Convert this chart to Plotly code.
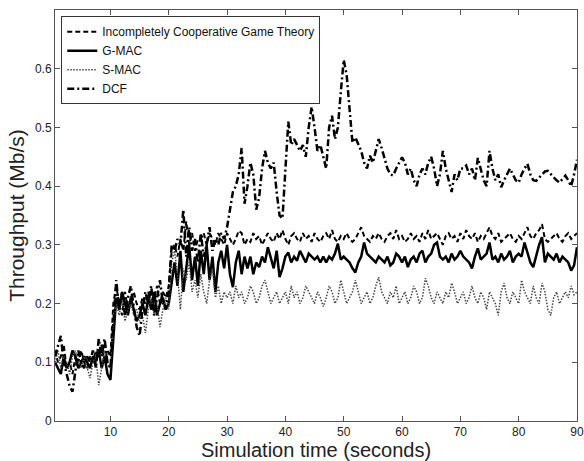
import plotly.graph_objects as go

# time axis (seconds), 0.5 s sampling
time_s = [0.5 * (i + 1) for i in range(180)]

icgt = [
    0.12, 0.10, 0.11, 0.13, 0.09, 0.10, 0.08, 0.11, 0.10, 0.12,
    0.10, 0.09, 0.11, 0.10, 0.12, 0.11, 0.13, 0.10, 0.12, 0.11,
    0.20, 0.23, 0.20, 0.18, 0.22, 0.19, 0.21, 0.22, 0.20, 0.19,
    0.21, 0.20, 0.22, 0.19, 0.21, 0.23, 0.20, 0.22, 0.21, 0.23,
    0.29, 0.30, 0.28, 0.31, 0.29, 0.34, 0.30, 0.32, 0.29, 0.31,
    0.31, 0.32, 0.30, 0.32, 0.31, 0.30, 0.32, 0.31, 0.30, 0.32,
    0.31, 0.30, 0.31, 0.324, 0.32, 0.30, 0.31, 0.305, 0.32, 0.31,
    0.315, 0.30, 0.31, 0.32, 0.31, 0.305, 0.32, 0.31, 0.325, 0.31,
    0.30, 0.315, 0.32, 0.31, 0.305, 0.32, 0.31, 0.315, 0.305, 0.32,
    0.31, 0.305, 0.315, 0.32, 0.31, 0.325, 0.31, 0.305, 0.315, 0.31,
    0.32, 0.31, 0.305, 0.31, 0.32, 0.33, 0.315, 0.31, 0.305, 0.315,
    0.31, 0.32, 0.31, 0.305, 0.315, 0.32, 0.31, 0.325, 0.31, 0.315,
    0.305, 0.31, 0.32, 0.31, 0.315, 0.305, 0.32, 0.31, 0.325, 0.31,
    0.315, 0.32, 0.31, 0.30, 0.315, 0.32, 0.31, 0.315, 0.305, 0.32,
    0.31, 0.325, 0.315, 0.31, 0.32, 0.305, 0.315, 0.31, 0.32, 0.33,
    0.315, 0.31, 0.32, 0.305, 0.31, 0.315, 0.32, 0.31, 0.305, 0.315,
    0.31, 0.32, 0.33, 0.315, 0.31, 0.32, 0.325, 0.335, 0.31, 0.305,
    0.31, 0.315, 0.32, 0.31, 0.305, 0.315, 0.32, 0.31, 0.315, 0.32,
]

gmac = [
    0.10, 0.09, 0.08, 0.11, 0.09, 0.10, 0.12, 0.11, 0.09, 0.10,
    0.11, 0.10, 0.09, 0.11, 0.10, 0.12, 0.09, 0.11, 0.08, 0.07,
    0.15, 0.21, 0.19, 0.22, 0.20, 0.18, 0.21, 0.19, 0.17, 0.18,
    0.20, 0.18, 0.21, 0.19, 0.22, 0.18, 0.20, 0.21, 0.19, 0.20,
    0.24, 0.27, 0.23, 0.29, 0.22, 0.26, 0.30, 0.24, 0.28, 0.23,
    0.29, 0.25, 0.30, 0.24, 0.28, 0.22, 0.27, 0.29, 0.26, 0.30,
    0.25, 0.228, 0.27, 0.29, 0.25, 0.28, 0.26, 0.28, 0.25, 0.27,
    0.262, 0.28, 0.27, 0.296, 0.28, 0.26, 0.29, 0.245, 0.26, 0.28,
    0.287, 0.27, 0.28, 0.273, 0.29, 0.28, 0.27, 0.285, 0.28, 0.275,
    0.28, 0.27, 0.28, 0.27, 0.28, 0.275, 0.285, 0.302, 0.275, 0.28,
    0.275, 0.27, 0.26, 0.253, 0.27, 0.28, 0.304, 0.285, 0.28, 0.275,
    0.27, 0.28, 0.275, 0.27, 0.28, 0.265, 0.27, 0.285, 0.28, 0.27,
    0.28, 0.262, 0.275, 0.28, 0.27, 0.285, 0.29, 0.27, 0.28, 0.285,
    0.30, 0.304, 0.28, 0.275, 0.28, 0.27, 0.285, 0.275, 0.28, 0.29,
    0.28, 0.275, 0.27, 0.26, 0.28, 0.294, 0.275, 0.28, 0.285, 0.304,
    0.275, 0.28, 0.27, 0.285, 0.275, 0.28, 0.29, 0.27, 0.28, 0.285,
    0.28, 0.304, 0.285, 0.27, 0.262, 0.28, 0.30, 0.313, 0.27, 0.285,
    0.28, 0.275, 0.285, 0.27, 0.28, 0.275, 0.27, 0.256, 0.265, 0.296,
]

smac = [
    0.10, 0.12, 0.09, 0.11, 0.10, 0.08, 0.11, 0.12, 0.10, 0.09,
    0.11, 0.09, 0.073, 0.10, 0.11, 0.061, 0.09, 0.12, 0.10, 0.09,
    0.16, 0.20, 0.18, 0.21, 0.17, 0.19, 0.20, 0.18, 0.19, 0.17,
    0.18, 0.15, 0.19, 0.21, 0.18, 0.20, 0.16, 0.19, 0.21, 0.19,
    0.27, 0.29, 0.25, 0.19, 0.26, 0.24, 0.27, 0.22, 0.24, 0.21,
    0.25, 0.22, 0.20, 0.24, 0.26, 0.21, 0.23, 0.20, 0.22, 0.21,
    0.22, 0.20, 0.23, 0.21, 0.22, 0.20, 0.21, 0.23, 0.22, 0.20,
    0.21, 0.23, 0.24, 0.22, 0.20, 0.21, 0.22, 0.20, 0.21, 0.22,
    0.20, 0.23, 0.21, 0.22, 0.20, 0.21, 0.23, 0.22, 0.21, 0.20,
    0.22, 0.21, 0.195, 0.21, 0.23, 0.22, 0.20, 0.21, 0.24, 0.22,
    0.20, 0.21, 0.22, 0.24, 0.22, 0.20, 0.21, 0.22, 0.20, 0.21,
    0.23, 0.245, 0.22, 0.21, 0.20, 0.22, 0.21, 0.23, 0.20, 0.21,
    0.22, 0.20, 0.21, 0.23, 0.22, 0.20, 0.21, 0.243, 0.23, 0.21,
    0.20, 0.22, 0.21, 0.20, 0.22, 0.21, 0.235, 0.22, 0.20, 0.21,
    0.22, 0.20, 0.21, 0.23, 0.21, 0.20, 0.22, 0.21, 0.19, 0.22,
    0.21, 0.20, 0.18, 0.22, 0.235, 0.21, 0.20, 0.22, 0.21, 0.20,
    0.24, 0.22, 0.21, 0.20, 0.23, 0.21, 0.20, 0.235, 0.22, 0.19,
    0.18, 0.21, 0.22, 0.20, 0.21, 0.22, 0.21, 0.23, 0.215, 0.22,
]

dcf = [
    0.11, 0.13, 0.145, 0.10, 0.08, 0.06, 0.05, 0.09, 0.12, 0.10,
    0.09, 0.11, 0.10, 0.12, 0.09, 0.14, 0.11, 0.14, 0.10, 0.09,
    0.17, 0.24, 0.19, 0.22, 0.18, 0.21, 0.23, 0.19, 0.16, 0.145,
    0.19, 0.22, 0.20, 0.23, 0.18, 0.21, 0.24, 0.20, 0.19, 0.22,
    0.30, 0.29, 0.31, 0.30, 0.36, 0.28, 0.33, 0.29, 0.31, 0.27,
    0.32, 0.28, 0.30, 0.33, 0.29, 0.31, 0.30, 0.32, 0.31, 0.33,
    0.36, 0.39, 0.40, 0.42, 0.465, 0.37, 0.40, 0.44, 0.42, 0.36,
    0.38, 0.43, 0.46, 0.44, 0.43, 0.44, 0.39, 0.35, 0.345, 0.42,
    0.51, 0.47, 0.48, 0.47, 0.46, 0.47, 0.45, 0.50, 0.535, 0.50,
    0.46, 0.47, 0.45, 0.43, 0.50, 0.52, 0.48, 0.50, 0.56, 0.615,
    0.59, 0.53, 0.474, 0.483, 0.47, 0.46, 0.44, 0.43, 0.452, 0.44,
    0.46, 0.48, 0.465, 0.449, 0.43, 0.42, 0.418, 0.43, 0.44, 0.449,
    0.44, 0.42, 0.43, 0.41, 0.40, 0.42, 0.43, 0.42, 0.44, 0.45,
    0.43, 0.40, 0.42, 0.46, 0.43, 0.41, 0.39, 0.42, 0.41, 0.43,
    0.43, 0.435, 0.42, 0.43, 0.41, 0.448, 0.43, 0.41, 0.40, 0.46,
    0.43, 0.41, 0.42, 0.398, 0.41, 0.42, 0.43, 0.42, 0.41, 0.406,
    0.42, 0.43, 0.438, 0.42, 0.41, 0.409, 0.415, 0.42, 0.425, 0.426,
    0.42, 0.415, 0.41, 0.406, 0.412, 0.418, 0.41, 0.40, 0.42, 0.445,
]

series_names = ["Incompletely Cooperative Game Theory", "G-MAC", "S-MAC", "DCF"]
x_ticks = [10, 20, 30, 40, 50, 60, 70, 80, 90]
y_ticks = [0, 0.1, 0.2, 0.3, 0.4, 0.5, 0.6]

FONT = "Liberation Sans, Arial, sans-serif"

fig = go.Figure()
styles = [
    (icgt, dict(color="black", width=2, dash="5px,3px")),
    (gmac, dict(color="black", width=2.5, dash="solid")),
    (smac, dict(color="#444444", width=1.5, dash="1.5px,1.5px")),
    (dcf, dict(color="black", width=2.5, dash="7px,3px,2px,3px")),
]
for name, (vals, line) in zip(series_names, styles):
    fig.add_trace(go.Scatter(x=time_s, y=vals, mode="lines", name=name, line=line))

axis_common = dict(
    showline=True, linecolor="#555555", linewidth=1, mirror="ticks",
    ticks="inside", ticklen=5, tickcolor="#555555", showgrid=False, zeroline=False,
    tickfont=dict(family=FONT, size=12, color="#222222"), automargin=False,
    ticklabeloverflow="allow",
)

fig.update_layout(
    width=584, height=461,
    margin=dict(l=55, r=7, t=10, b=40),
    paper_bgcolor="white", plot_bgcolor="white",
    font=dict(family=FONT, color="#222222"),
    xaxis=dict(range=[0.5, 90], tickvals=x_ticks, ticktext=[str(v) for v in x_ticks],
               title=dict(text="Simulation time (seconds)", font=dict(family=FONT, size=20), standoff=5),
               **axis_common),
    yaxis=dict(range=[0, 0.7], tickvals=y_ticks, ticktext=["0", "0.1", "0.2", "0.3", "0.4", "0.5", "0.6"],
               title=dict(text="Throughput (Mb/s)", font=dict(family=FONT, size=21), standoff=4),
               **axis_common),
    legend=dict(x=0.012, y=0.985, xanchor="left", yanchor="top",
                bgcolor="white", bordercolor="#333333", borderwidth=1,
                font=dict(family=FONT, size=12, color="#111111"),
                tracegroupgap=0, itemwidth=30),
    showlegend=True,
)

fig.write_html(
    "out.html",
    config={"displayModeBar": False},
    post_script="document.body.style.margin='0';document.body.style.overflow='hidden';",
)
